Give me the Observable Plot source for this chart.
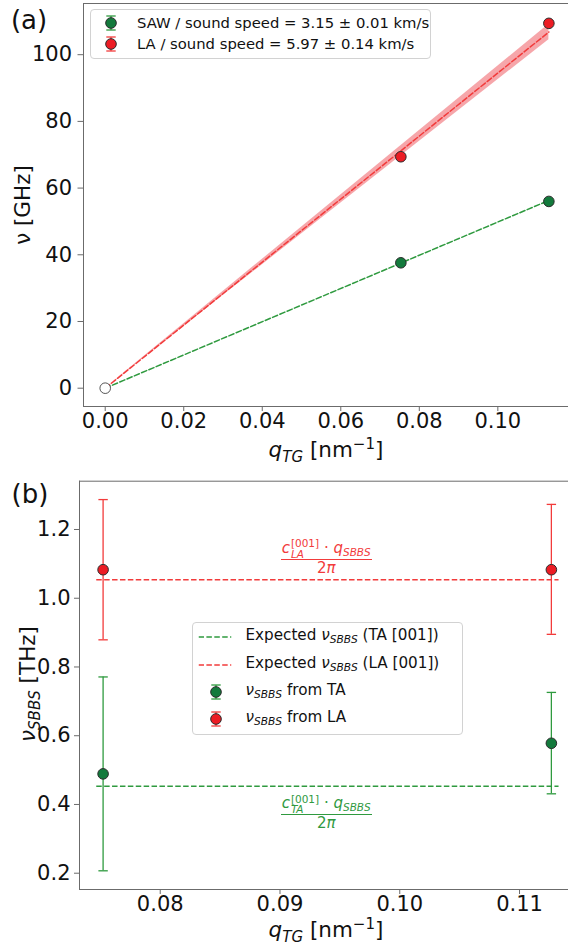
<!DOCTYPE html>
<html><head><meta charset="utf-8">
<script src="https://cdn.jsdelivr.net/npm/d3@7"></script>
<script src="https://cdn.jsdelivr.net/npm/@observablehq/plot@0.6"></script>
<style>
body{margin:0;background:#fff;font-family:"DejaVu Sans",sans-serif;color:#111;}
#wrap{position:relative;width:568px;height:952px;overflow:hidden;}
.abs{position:absolute;white-space:nowrap;line-height:1;}
.i{font-style:italic;}
.sb{font-size:0.7em;position:relative;top:0.3em;}
.sp{font-size:0.7em;position:relative;top:-0.5em;}
.box{position:absolute;border:1px solid #d2d2d2;border-radius:4px;background:rgba(255,255,255,0.85);box-sizing:border-box;}
.ss{display:inline-block;position:relative;font-size:0.7em;line-height:1;margin-left:1px;}
.ss .u{position:relative;top:-0.55em;}
.ss .d{position:absolute;left:0;top:0.45em;font-style:italic;}
</style>
</head><body><div id="wrap"></div>
<script>
// ---------- panel (a) data ----------
const qTG = [0.0753, 0.1130];
const sawNu = [37.6, 56.0];
const laNu = [69.4, 109.4];
const originQ = [0];
const originNu = [0];
const fitQ = [0, 0.1130];
const sawFit = [0, 56.3];
const laFit = [0, 106.8];
const laFitLow = [0, 104.5];
const laFitHigh = [0, 109.1];
const topXTicks = [0, 0.02, 0.04, 0.06, 0.08, 0.10];
const topYTicks = [0, 20, 40, 60, 80, 100];
const topLegend = ["SAW / sound speed = 3.15 ± 0.01 km/s", "LA / sound speed = 5.97 ± 0.14 km/s"];

// ---------- panel (b) data ----------
const qSBBS = [0.07523, 0.11266];
const taSBBS = [0.489, 0.578];
const taLow = [0.207, 0.431];
const taHigh = [0.771, 0.726];
const laSBBS = [1.083, 1.083];
const laLow = [0.879, 0.895];
const laHigh = [1.287, 1.273];
const expectedQ = [0.0747, 0.1133];
const expectedTA = [0.453];
const expectedLA = [1.054];
const botXTicks = [0.08, 0.09, 0.10, 0.11];
const botYTicks = [0.2, 0.4, 0.6, 0.8, 1.0, 1.2];

// ---------- styles ----------
const GREEN_PT = "#137a3c", GREEN_LINE = "#2f9a3f";
const RED_PT = "#ec1c24", RED_LINE = "#f23b3b";
const BAND = "#f6a6aa", EDGE = "#2b2b2b", FRAME = "#6b6b6b";
const DASH = "5.5,2.4";
const FONT = "DejaVu Sans, sans-serif";

const capSymbol = {draw(ctx, size) { const w = Math.sqrt(size / Math.PI); ctx.moveTo(-w, 0); ctx.lineTo(w, 0); }};

const wrap = document.getElementById("wrap");

// ---------- panel (a) ----------
const topData = qTG.map((q, i) => ({q, saw: sawNu[i], la: laNu[i]}));
const fitData = fitQ.map((q, i) => ({q, saw: sawFit[i], la: laFit[i], lo: laFitLow[i], hi: laFitHigh[i]}));
const originData = originQ.map((q, i) => ({q, nu: originNu[i]}));

const topPlot = Plot.plot({
  width: 568, height: 478, marginLeft: 83, marginRight: 0, marginTop: 3, marginBottom: 72,
  style: {fontFamily: FONT, fontSize: "21px", color: "#111", background: "transparent", overflow: "visible"},
  x: {domain: [-0.00553, 0.1180]},
  y: {domain: [-5.49, 115.35]},
  marks: [
    Plot.areaY(fitData, {x: "q", y1: "lo", y2: "hi", fill: BAND}),
    Plot.line(fitData, {x: "q", y: "saw", stroke: GREEN_LINE, strokeWidth: 1.5, strokeDasharray: DASH}),
    Plot.line(fitData, {x: "q", y: "la", stroke: RED_LINE, strokeWidth: 1.5, strokeDasharray: DASH}),
    Plot.dot(originData, {x: "q", y: "nu", r: 5.3, fill: "white", stroke: "#555", strokeWidth: 1}),
    Plot.dot(topData, {x: "q", y: "saw", r: 5.3, fill: GREEN_PT, stroke: EDGE, strokeWidth: 1}),
    Plot.dot(topData, {x: "q", y: "la", r: 5.3, fill: RED_PT, stroke: EDGE, strokeWidth: 1}),
    Plot.frame({anchor: "left", stroke: FRAME}),
    Plot.frame({anchor: "top", stroke: FRAME}),
    Plot.frame({anchor: "bottom", stroke: FRAME}),
    Plot.axisX(topXTicks, {tickFormat: d3.format(".2f"), tickSize: 5, tickPadding: 2, stroke: FRAME, fill: "#111", label: null}),
    Plot.axisY(topYTicks, {tickSize: 5.5, tickPadding: 6, stroke: FRAME, fill: "#111", label: null})
  ]
});
const topHolder = document.createElement("div");
topHolder.style.cssText = "position:absolute;left:0;top:0;";
topHolder.appendChild(topPlot);
wrap.appendChild(topHolder);

// ---------- panel (b) ----------
const BOT_TOP = 478;
const botData = qSBBS.map((q, i) => ({q, ta: taSBBS[i], taLo: taLow[i], taHi: taHigh[i], la: laSBBS[i], laLo: laLow[i], laHi: laHigh[i]}));
const taCaps = botData.flatMap(d => [{q: d.q, y: d.taLo}, {q: d.q, y: d.taHi}]);
const laCaps = botData.flatMap(d => [{q: d.q, y: d.laLo}, {q: d.q, y: d.laHi}]);

const botPlot = Plot.plot({
  width: 568, height: 952 - BOT_TOP, marginLeft: 79, marginRight: 0, marginTop: 2.7, marginBottom: 63,
  style: {fontFamily: FONT, fontSize: "21px", color: "#111", background: "transparent", overflow: "visible"},
  x: {domain: [0.07326, 0.11409]},
  y: {domain: [0.1526, 1.3405]},
  marks: [
    Plot.ruleY(expectedTA, {x1: expectedQ[0], x2: expectedQ[1], stroke: GREEN_LINE, strokeWidth: 1.5, strokeDasharray: DASH}),
    Plot.ruleY(expectedLA, {x1: expectedQ[0], x2: expectedQ[1], stroke: RED_LINE, strokeWidth: 1.5, strokeDasharray: DASH}),
    Plot.ruleX(botData, {x: "q", y1: "laLo", y2: "laHi", stroke: RED_LINE, strokeWidth: 1.3}),
    Plot.dot(laCaps, {x: "q", y: "y", symbol: capSymbol, r: 4.7, fill: "none", stroke: RED_LINE, strokeWidth: 1.3}),
    Plot.ruleX(botData, {x: "q", y1: "taLo", y2: "taHi", stroke: GREEN_LINE, strokeWidth: 1.3}),
    Plot.dot(taCaps, {x: "q", y: "y", symbol: capSymbol, r: 4.7, fill: "none", stroke: GREEN_LINE, strokeWidth: 1.3}),
    Plot.dot(botData, {x: "q", y: "la", r: 5.3, fill: RED_PT, stroke: EDGE, strokeWidth: 1}),
    Plot.dot(botData, {x: "q", y: "ta", r: 5.3, fill: GREEN_PT, stroke: EDGE, strokeWidth: 1}),
    Plot.frame({anchor: "left", stroke: FRAME}),
    Plot.frame({anchor: "top", stroke: FRAME}),
    Plot.frame({anchor: "bottom", stroke: FRAME}),
    Plot.axisX(botXTicks, {tickFormat: d3.format(".2f"), tickSize: 5, tickPadding: 2, stroke: FRAME, fill: "#111", label: null}),
    Plot.axisY(botYTicks, {tickFormat: d3.format(".1f"), tickSize: 5, tickPadding: 4, stroke: FRAME, fill: "#111", label: null})
  ]
});
const botHolder = document.createElement("div");
botHolder.style.cssText = `position:absolute;left:0;top:${BOT_TOP}px;`;
botHolder.appendChild(botPlot);
wrap.appendChild(botHolder);

// ---------- helpers ----------
function add(html, x, y, {size = 15, color = "#111", anchor = "center", rotate = 0, valign = "middle"} = {}) {
  const d = document.createElement("div");
  d.className = "abs";
  d.innerHTML = html;
  d.style.left = x + "px";
  d.style.top = y + "px";
  d.style.fontSize = size + "px";
  d.style.color = color;
  const tx = anchor === "center" ? "-50%" : anchor === "end" ? "-100%" : "0";
  const ty = valign === "middle" ? "-50%" : valign === "bottom" ? "-100%" : "0";
  d.style.transform = `translate(${tx},${ty})` + (rotate ? ` rotate(${rotate}deg)` : "");
  wrap.appendChild(d);
  return d;
}
function glyphMarker(fill, barColor) {
  return `<svg width="20" height="20" viewBox="-10 -10 20 20" style="display:block">
    <line x1="0" x2="0" y1="-7" y2="7" stroke="${barColor}" stroke-width="1.3"/>
    <line x1="-4.7" x2="4.7" y1="-7" y2="-7" stroke="${barColor}" stroke-width="1.3"/>
    <line x1="-4.7" x2="4.7" y1="7" y2="7" stroke="${barColor}" stroke-width="1.3"/>
    <circle r="5.3" fill="${fill}" stroke="${EDGE}" stroke-width="1"/></svg>`;
}
function glyphDash(color) {
  return `<svg width="33" height="6" style="display:block"><line x1="0" x2="33" y1="3" y2="3" stroke="${color}" stroke-width="1.5" stroke-dasharray="${DASH}"/></svg>`;
}

// panel labels
add("(a)", 29, 20, {size: 26});
add("(b)", 30, 494, {size: 26});

// axis titles
const qLabel = `<span class="i">q</span><span class="sb i">TG</span> [nm<span class="sp">−1</span>]`;
add(qLabel, 326, 450, {size: 21.5});
add(qLabel, 326, 930, {size: 21.5});
add(`ν [GHz]`, 23, 205, {size: 21.5, rotate: -90});
add(`<span class="i">ν</span><span class="sb i">SBBS</span> [THz]`, 28, 684, {size: 21.5, rotate: -90});

// legend (a)
const boxA = document.createElement("div");
boxA.className = "box";
boxA.style.cssText += "left:90px;top:9px;width:341px;height:50px;";
wrap.appendChild(boxA);
const rowsA = [[22.7, GREEN_PT, GREEN_LINE], [44.3, RED_PT, RED_LINE]];
rowsA.forEach(([cy, f, b], i) => {
  add(glyphMarker(f, b), 110.5, cy);
  add(topLegend[i], 137, cy, {size: 14.8, anchor: "start"});
});

// legend (b)
const boxB = document.createElement("div");
boxB.className = "box";
boxB.style.cssText += "left:192px;top:622px;width:271px;height:113px;";
wrap.appendChild(boxB);
const nuS = `<span class="i">ν</span><span class="sb i">SBBS</span>`;
add(glyphDash(GREEN_LINE), 215, 637);
add(`Expected ${nuS} (TA [001])`, 245.5, 636, {size: 15.2, anchor: "start"});
add(glyphDash(RED_LINE), 215, 664.5);
add(`Expected ${nuS} (LA [001])`, 245.5, 663.5, {size: 15.2, anchor: "start"});
add(glyphMarker(GREEN_PT, GREEN_LINE), 215.5, 691.5);
add(`${nuS} from TA`, 245.5, 690.5, {size: 15.2, anchor: "start"});
add(glyphMarker(RED_PT, RED_LINE), 215.5, 718.5);
add(`${nuS} from LA`, 245.5, 717.5, {size: 15.2, anchor: "start"});

// fraction annotations, positioned through panel (b) scales
const sx = botPlot.scale("x"), sy = botPlot.scale("y");
const fx = v => sx.apply ? sx.apply(v) : d3.scaleLinear(sx.domain, sx.range)(v);
const fy = v => (sy.apply ? sy.apply(v) : d3.scaleLinear(sy.domain, sy.range)(v)) + BOT_TOP;
function fraction(sub, color, cx, barY) {
  const num = add(`<span class="i">c</span><span class="ss"><span class="u">[001]</span><span class="d">${sub}</span></span> · <span class="i">q</span><span class="sb i">SBBS</span>`,
    cx, barY - 3, {size: 15, color, valign: "bottom"});
  const w = num.getBoundingClientRect().width + 2;
  const bar = document.createElement("div");
  bar.style.cssText = `position:absolute;left:${cx - w / 2}px;top:${barY - 0.6}px;width:${w}px;height:1.3px;background:${color};`;
  wrap.appendChild(bar);
  add(`2<span class="i">π</span>`, cx, barY + 2, {size: 15, color, valign: "top"});
}
fraction("LA", RED_LINE, fx(0.0939), fy(expectedLA[0]) - 20);
fraction("TA", GREEN_LINE, fx(0.0939), fy(expectedTA[0]) + 28.6);
</script>
</body></html>
